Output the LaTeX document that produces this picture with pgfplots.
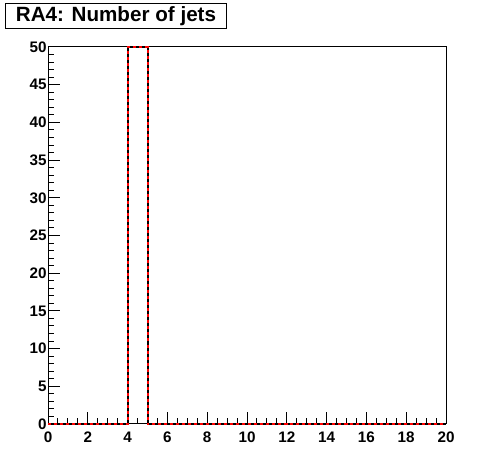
\documentclass[border=0pt]{standalone}
\usepackage{pgfplots}
\pgfplotsset{compat=1.18}
\usepackage{fontspec}
\setmainfont{Liberation Sans}
\begin{document}
\begin{tikzpicture}[x=1bp,y=1bp]
\path[use as bounding box] (0,0) rectangle (496,472);
\begin{axis}[
  at={(48bp,48bp)}, anchor=south west,
  scale only axis, width=398bp, height=377bp,
  xmin=0, xmax=20, ymin=0, ymax=50,
  xtick={0,2,...,20}, ytick={0,5,...,50},
  minor x tick num=3, minor y tick num=4,
  tick align=inside, tick pos=left,
  major tick length=12bp, minor tick length=6bp,
  axis line style={line width=1bp},
  every tick/.style={black, line width=1bp},
  /pgf/number format/assume math mode=true,
  tick label style={font=\fontsize{15.3}{17}\selectfont\bfseries},
  xticklabel style={yshift=-4bp},
  yticklabel style={xshift=2bp},
  clip=false,
]
\addplot[black, line width=2bp, const plot] coordinates {
 (0,0) (1,0) (2,0) (3,0) (4,50) (5,0) (6,0) (7,0) (8,0) (9,0) (10,0)
 (11,0) (12,0) (13,0) (14,0) (15,0) (16,0) (17,0) (18,0) (19,0) (20,0)};
\addplot[red, line width=2bp, dash pattern=on 3bp off 3bp, const plot] coordinates {
 (0,0) (1,0) (2,0) (3,0) (4,50) (5,0) (6,0) (7,0) (8,0) (9,0) (10,0)
 (11,0) (12,0) (13,0) (14,0) (15,0) (16,0) (17,0) (18,0) (19,0) (20,0)};
\end{axis}
\node[draw, line width=1bp, anchor=north west, minimum width=221bp, minimum height=25bp, inner sep=0pt,
  font=\fontsize{20.7}{23}\selectfont\bfseries] at (5,469) {RA4: Number of jets};
\end{tikzpicture}
\end{document}
